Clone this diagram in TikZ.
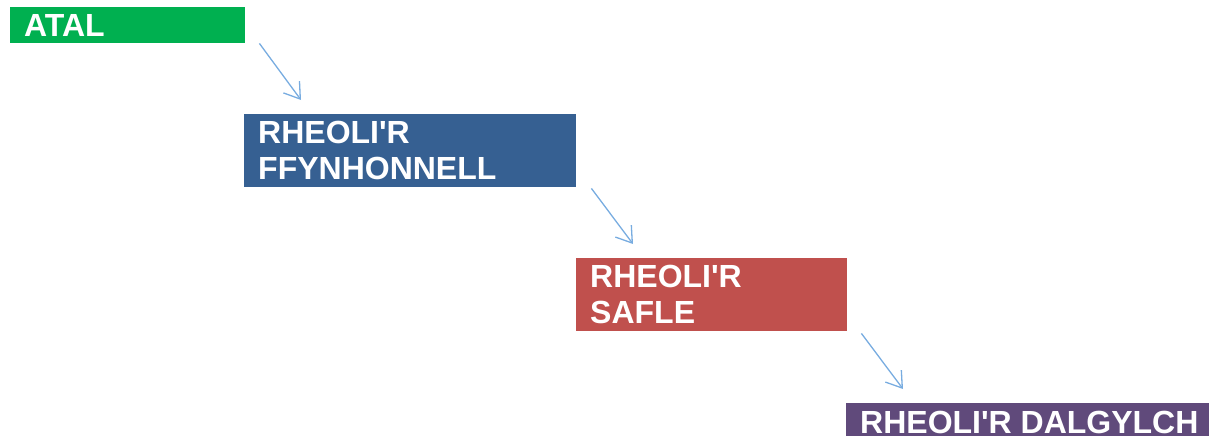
\documentclass[tikz,border=0pt]{standalone}
\usepackage{fontspec}
\setmainfont{Liberation Sans}
\usetikzlibrary{arrows.meta}

\definecolor{atalgreen}{RGB}{0,176,80}
\definecolor{ffblue}{RGB}{54,96,146}
\definecolor{saflered}{RGB}{192,80,77}
\definecolor{dalpurple}{RGB}{96,74,123}
\definecolor{arrowblue}{RGB}{120,172,224}

\tikzset{
  stage/.style={shape=rectangle,anchor=north west,text=white,align=flush left,
    font=\fontsize{32}{35.5}\selectfont\bfseries,inner xsep=14pt,inner ysep=0pt},
  flow/.style={draw=arrowblue,line width=1.3pt,-{Straight Barb[length=15pt,width=20pt]}}
}

\begin{document}
\begin{tikzpicture}[x=1pt,y=1pt]
\useasboundingbox (0,0) rectangle (1212,-436);
\node[stage,fill=atalgreen,minimum width=235,minimum height=36,text width=207] (atal) at (10,-7) {ATAL};
\node[stage,fill=ffblue,minimum width=332,minimum height=73,text width=304] (ffynhonnell) at (244,-114) {RHEOLI\textquotesingle R\\FFYNHONNELL};
\node[stage,fill=saflered,minimum width=271,minimum height=73,text width=243] (safle) at (576,-258) {RHEOLI\textquotesingle R\\SAFLE};
\node[stage,fill=dalpurple,minimum width=363,minimum height=38,text width=335] (dalgylch) at (846,-403) {\mbox{RHEOLI\textquotesingle R DALGYLCH}};

\draw[flow] ([xshift=14pt]atal.south east) -- ([xshift=57pt,yshift=14pt]ffynhonnell.north west);
\draw[flow] ([xshift=15pt,yshift=-1pt]ffynhonnell.south east) -- ([xshift=57pt,yshift=14pt]safle.north west);
\draw[flow] ([xshift=14pt,yshift=-2pt]safle.south east) -- ([xshift=57pt,yshift=14pt]dalgylch.north west);
\end{tikzpicture}
\end{document}
